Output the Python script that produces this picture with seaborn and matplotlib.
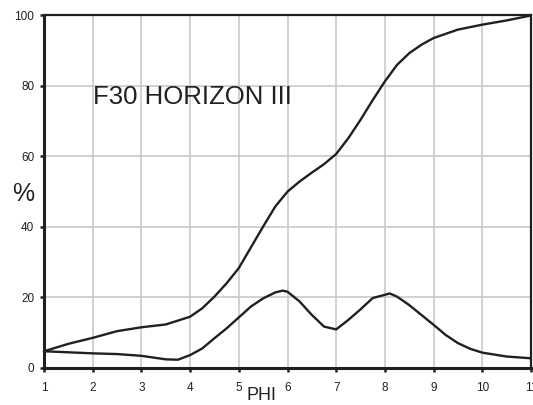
import matplotlib
matplotlib.use('Agg')
import matplotlib.pyplot as plt
import numpy as np
import pandas as pd
import seaborn as sns

# 累积曲线
cum_phi = [1, 1.5, 2, 2.5, 3, 3.5, 4, 4.25, 4.5, 4.75, 5, 5.25, 5.5, 5.75, 6, 6.25,
           6.5, 6.75, 7, 7.25, 7.5, 7.75, 8, 8.25, 8.5, 8.75, 9, 9.5, 10, 10.5, 11]
cum_pct = [4.7, 6.8, 8.5, 10.4, 11.5, 12.3, 14.5, 16.9, 20.2, 24.0, 28.3, 34.2, 40.1, 45.8,
           50.0, 52.9, 55.4, 57.8, 60.7, 65.2, 70.4, 76.0, 81.3, 86.0, 89.3, 91.7, 93.6,
           96.0, 97.4, 98.6, 100]

# 频率曲线
freq_phi = [1, 1.5, 2, 2.5, 3, 3.5, 3.75, 4, 4.25, 4.5, 4.75, 5, 5.25, 5.5, 5.75, 5.9,
            6, 6.25, 6.5, 6.75, 7, 7.25, 7.5, 7.75, 8.1, 8.25, 8.5, 8.75, 9, 9.25, 9.5,
            9.75, 10, 10.5, 11]
freq_pct = [4.7, 4.4, 4.1, 3.9, 3.4, 2.4, 2.3, 3.6, 5.5, 8.4, 11.2, 14.3, 17.4, 19.7, 21.4,
            21.9, 21.6, 18.8, 15.0, 11.7, 10.9, 13.6, 16.6, 19.8, 21.1, 20.2, 17.8, 15.0,
            12.2, 9.3, 7.0, 5.4, 4.3, 3.2, 2.7]

x_ticks = [1, 2, 3, 4, 5, 6, 7, 8, 9, 10, 11]
y_ticks = [0, 20, 40, 60, 80, 100]

sns.set_style('white')
plt.rcParams['font.family'] = ['Liberation Sans', 'DejaVu Sans']

ink = '#231f20'
fig = plt.figure(figsize=(5.33, 4.05), dpi=100)
ax = fig.add_axes([44 / 533, 37.2 / 405, 487 / 533, 352.3 / 405])

df_cum = pd.DataFrame({'phi': cum_phi, 'pct': cum_pct})
df_freq = pd.DataFrame({'phi': freq_phi, 'pct': freq_pct})
sns.lineplot(data=df_cum, x='phi', y='pct', ax=ax, color=ink, linewidth=1.7,
             estimator=None, sort=False, clip_on=False, zorder=5)
sns.lineplot(data=df_freq, x='phi', y='pct', ax=ax, color=ink, linewidth=1.7,
             estimator=None, sort=False, clip_on=False, zorder=5)
for line in ax.lines:
    line.set_solid_joinstyle('round')
    line.set_solid_capstyle('round')

ax.set_xlim(1, 11)
ax.set_ylim(0, 100)
ax.set_xticks(x_ticks)
ax.set_yticks(y_ticks)
ax.grid(True, color='#c8cad0', linewidth=1.2)
ax.set_axisbelow(True)
ax.tick_params(axis='both', direction='out', length=3, width=1.8, color=ink,
               labelsize=8.5, labelcolor=ink, bottom=True, left=True)
ax.tick_params(axis='x', pad=7)
ax.tick_params(axis='y', pad=4)
for side in ['left', 'bottom']:
    ax.spines[side].set_linewidth(2.2)
    ax.spines[side].set_color(ink)
for side in ['top', 'right']:
    ax.spines[side].set_linewidth(1.6)
    ax.spines[side].set_color(ink)
ax.set_xlabel('')
ax.set_ylabel('')

fig.text(262 / 533, 1 - 396 / 405, 'PHI', fontsize=13, color=ink, ha='center', va='center')
fig.text(23 / 533, 1 - 194 / 405, '%', fontsize=18, color=ink, ha='center', va='center')
ax.text(2, 77, 'F30 HORIZON III', fontsize=18.5, color=ink, ha='left', va='center')

fig.savefig('out.png', dpi=100)
